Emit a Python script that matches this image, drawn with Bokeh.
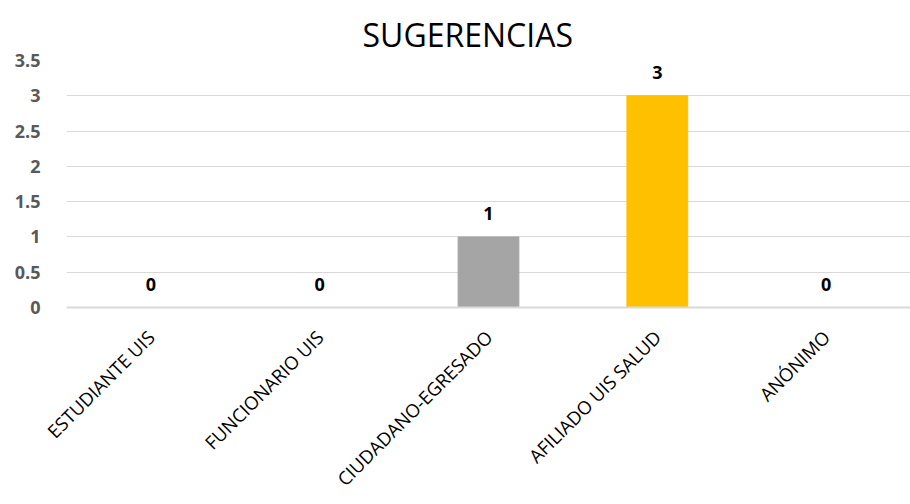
import math
from bokeh.plotting import figure
from bokeh.models import ColumnDataSource, Range1d, FactorRange, FixedTicker, Title
from bokeh.core.properties import value
from bokeh.embed import file_html
from bokeh.resources import INLINE

categories = ["ESTUDIANTE UIS", "FUNCIONARIO UIS", "CIUDADANO-EGRESADO", "AFILIADO UIS SALUD", "ANÓNIMO"]
counts = [0, 0, 1, 3, 0]
colors = ["#A5A5A5", "#A5A5A5", "#A5A5A5", "#FFC000", "#A5A5A5"]
y_ticks = [0, 0.5, 1, 1.5, 2, 2.5, 3, 3.5]

FONT = "Open Sans"

src = ColumnDataSource(dict(cat=categories, val=counts, col=colors,
                            lbl=[str(v) for v in counts]))

p = figure(width=910, height=504, x_range=FactorRange(*categories, range_padding=0),
           y_range=Range1d(0, 3.5), output_backend="svg", toolbar_location=None,
           min_border_left=66, min_border_right=0, min_border_top=60, min_border_bottom=197)
p.outline_line_color = None
p.background_fill_color = "white"
p.border_fill_color = "white"

t = Title(text="SUGERENCIAS", align="left", offset=296, text_font=FONT,
          text_font_size="32px", text_font_style="normal", text_color="#000000",
          standoff=10)
p.add_layout(t, "above")

p.vbar(x="cat", top="val", width=0.36, color="col", source=src)
p.text(x="cat", y="val", text="lbl", source=src, text_align="center",
       text_baseline="bottom", y_offset=-17, text_font=value(FONT),
       text_font_size="18px", text_font_style="bold", text_color="#000000")

p.xgrid.grid_line_color = None
p.ygrid.grid_line_color = "#D9D9D9"
p.ygrid.grid_line_width = 1
p.yaxis.ticker = FixedTicker(ticks=y_ticks)
p.yaxis.axis_line_color = None
p.yaxis.major_tick_line_color = None
p.yaxis.minor_tick_line_color = None
p.yaxis.major_label_text_font = FONT
p.yaxis.major_label_text_font_size = "18px"
p.yaxis.major_label_text_font_style = "bold"
p.yaxis.major_label_text_color = "#595959"
p.yaxis.major_label_standoff = 20

p.xaxis.axis_line_color = "#D9D9D9"
p.xaxis.axis_line_width = 2
p.xaxis.major_tick_line_color = None
p.xaxis.minor_tick_line_color = None
p.xaxis.major_label_orientation = math.pi / 4
p.xaxis.major_label_text_font = FONT
p.xaxis.major_label_text_font_size = "18.5px"
p.xaxis.major_label_text_color = "#000000"
p.xaxis.major_label_standoff = 20

open("out.html", "w").write(file_html(p, INLINE))
